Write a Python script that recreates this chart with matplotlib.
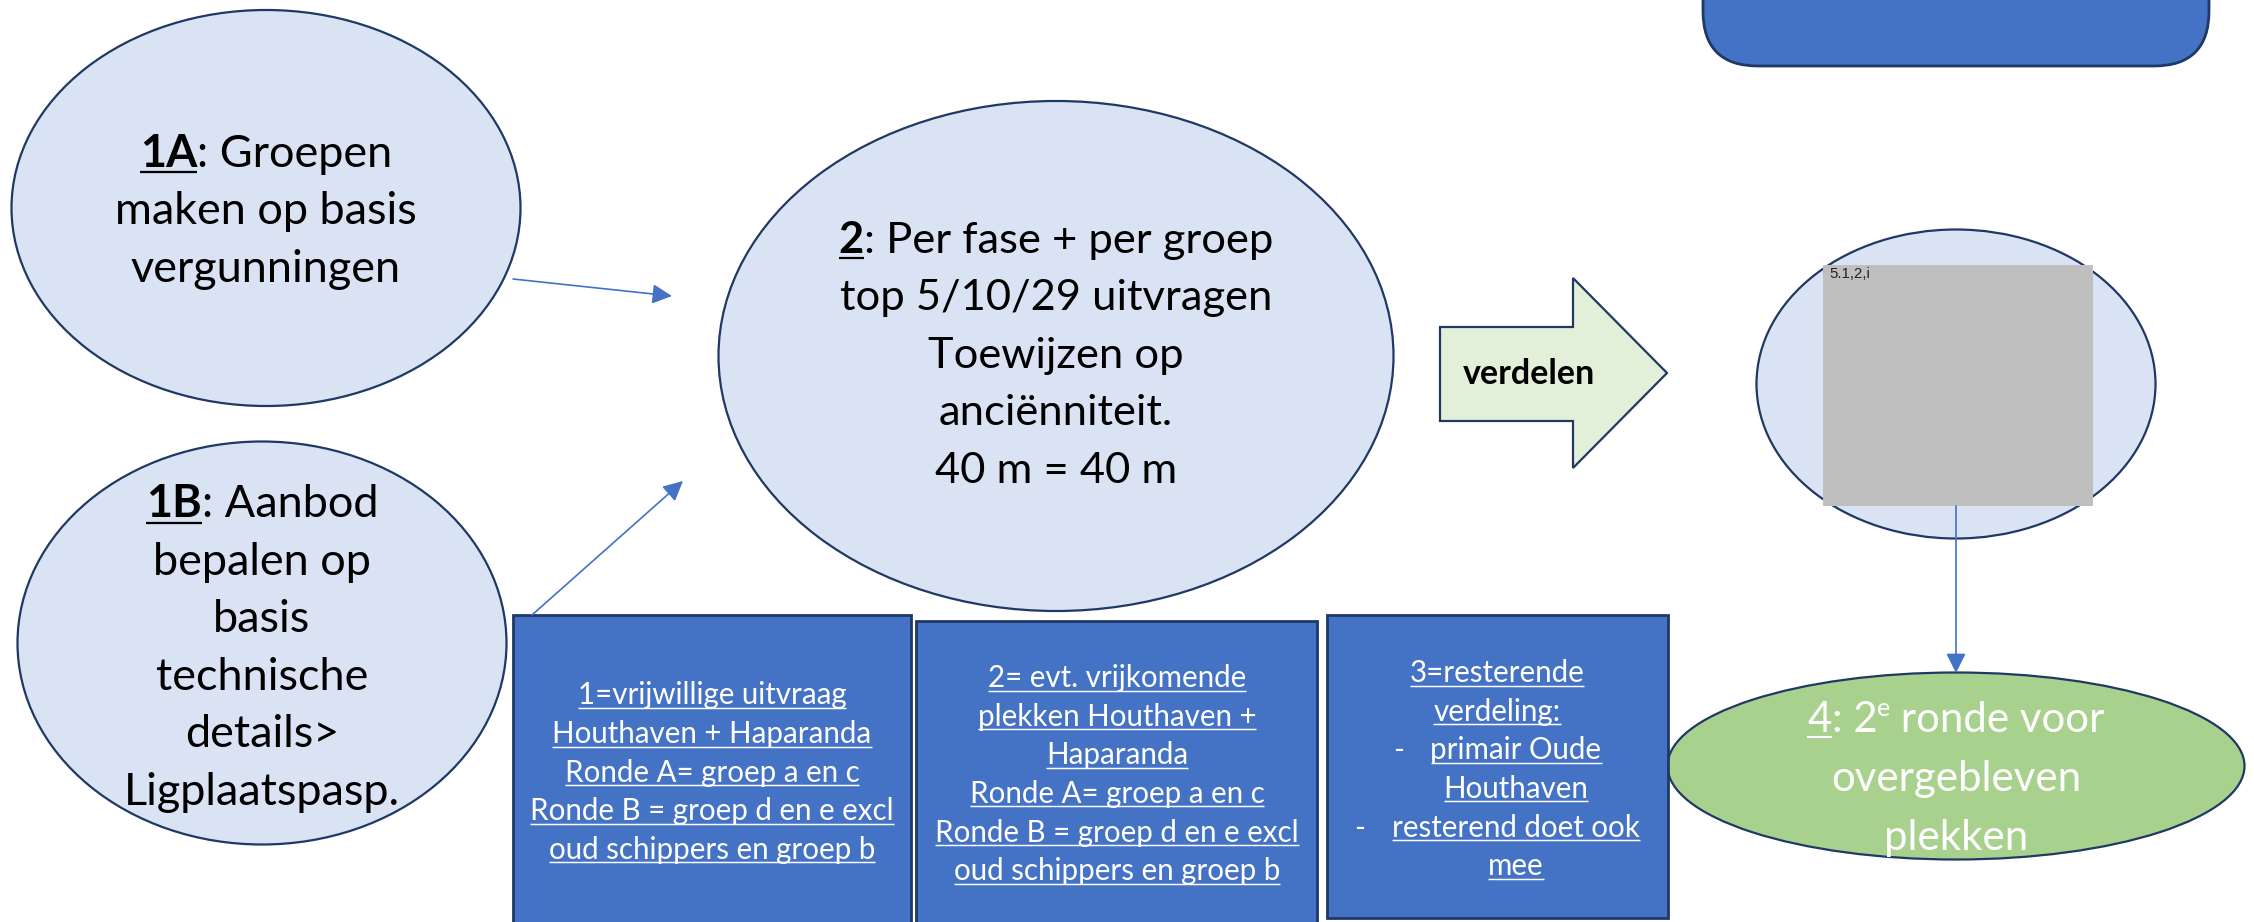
import matplotlib
matplotlib.use("Agg")
import matplotlib.pyplot as plt
from matplotlib.patches import Ellipse, Rectangle, FancyBboxPatch, Polygon, FancyArrowPatch

W, H = 2254, 922
FONT = "Lato"
PT = 0.72  # px -> pt at dpi 100

# text runs: (text, style)  b = bold, u = underline, s = superscript
text_1a = [[("1A", "bu"), (": Groepen", "")],
           [("maken op basis", "")],
           [("vergunningen", "")]]
text_1b = [[("1B", "bu"), (": Aanbod", "")],
           [("bepalen op", "")],
           [("basis", "")],
           [("technische", "")],
           [("details>", "")],
           [("Ligplaatspasp.", "")]]
text_2 = [[("2", "bu"), (": Per fase + per groep", "")],
          [("top 5/10/29 uitvragen", "")],
          [("Toewijzen op", "")],
          [("anciënniteit.", "")],
          [("40 m = 40 m", "")]]
text_4 = [[("4", "u"), (": 2", ""), ("e", "s"), (" ronde voor", "")],
          [("overgebleven", "")],
          [("plekken", "")]]
arrow_label = "verdelen"
picture_label = "5.1,2,i"

box1_lines = ["1=vrijwillige uitvraag", "Houthaven + Haparanda",
              "Ronde A= groep a en c", "Ronde B = groep d en e excl",
              "oud schippers en groep b"]
box2_lines = ["2= evt. vrijkomende", "plekken Houthaven +", "Haparanda",
              "Ronde A= groep a en c", "Ronde B = groep d en e excl",
              "oud schippers en groep b"]
# (text, kind): '' = centred, '-' = bullet item, '>' = continuation of bullet
box3_lines = [("3=resterende", ""), ("verdeling:", ""),
              ("primair Oude", "-"), ("Houthaven", ">"),
              ("resterend doet ook", "-"), ("mee", ">")]

LIGHT = "#DAE3F3"
NAVY = "#1F3864"
BLUE = "#4472C4"
GREEN = "#A9D18E"
PALE = "#E2F0D9"
GREY = "#BFBFBF"

fig = plt.figure(figsize=(W / 100, H / 100), dpi=100, facecolor="white")
ax = fig.add_axes([0, 0, 1, 1])
ax.set_xlim(0, W)
ax.set_ylim(H, 0)
ax.axis("off")
renderer = fig.canvas.get_renderer()


def put_line(cx, y, runs, size, color):
    """draw one line of runs centred on cx, y = baseline (px)"""
    items = []
    for text, style in runs:
        fs = size * 0.6 if "s" in style else size
        t = ax.text(0, y, text, fontsize=fs * PT, family=FONT,
                    fontweight="bold" if "b" in style else "normal",
                    color=color, ha="left", va="baseline", zorder=5)
        w = t.get_window_extent(renderer).width
        items.append((t, w, style))
    total = sum(w for _, w, _ in items)
    x = cx - total / 2
    for t, w, style in items:
        dy = -0.38 * size if "s" in style else 0
        t.set_position((x, y + dy))
        if "u" in style:
            ax.plot([x, x + w], [y + 0.12 * size] * 2, color=color,
                    lw=max(1.0, size * 0.05) * PT, solid_capstyle="butt", zorder=5)
        x += w
    return cx - total / 2


def put_block(cx, cy, lines, size, spacing, color):
    n = len(lines)
    for i, runs in enumerate(lines):
        yc = cy + (i - (n - 1) / 2) * spacing
        put_line(cx, yc + 0.36 * size, runs, size, color)


def ellipse(cx, cy, w, h, fc):
    ax.add_patch(Ellipse((cx, cy), w, h, facecolor=fc, edgecolor=NAVY,
                         lw=1.6, zorder=2))


def connector(p0, p1):
    ax.add_patch(FancyArrowPatch(p0, p1, arrowstyle="-|>,head_length=0.6,head_width=0.3",
                                 mutation_scale=20, color=BLUE, lw=1.2,
                                 shrinkA=0, shrinkB=0, zorder=6))


# top rounded box (cut off by the border)
ax.add_patch(FancyBboxPatch((1703, -120), 506, 186,
                            boxstyle="round,pad=0,rounding_size=55",
                            facecolor=BLUE, edgecolor=NAVY, lw=2, zorder=2))

# ellipses
ellipse(266, 208, 509, 396, LIGHT)
put_block(266, 208, text_1a, 45, 57.5, "black")

ellipse(262, 643, 489, 403, LIGHT)
put_block(262, 645, text_1b, 45, 57.5, "black")

ellipse(1056, 356, 675, 510, LIGHT)
put_block(1056, 352, text_2, 43.5, 57.5, "black")

ellipse(1956, 384, 399, 309, LIGHT)
ax.add_patch(Rectangle((1823, 265), 270, 241, facecolor=GREY, edgecolor="none", zorder=3))
ax.text(1829, 267, picture_label, fontsize=15 * PT, family="Liberation Sans",
        color="#222222", ha="left", va="top", zorder=4)

ellipse(1956, 766, 577, 187, GREEN)
put_block(1956, 776, text_4, 42, 59, "white")

# block arrow
ax.add_patch(Polygon([(1440, 327), (1573, 327), (1573, 278), (1667, 373),
                      (1573, 468), (1573, 421), (1440, 421)],
                     closed=True, facecolor=PALE, edgecolor=NAVY, lw=1.6, zorder=2))
ax.text(1529, 374, arrow_label, fontsize=34 * PT, family=FONT, fontweight="bold",
        color="black", ha="center", va="center", zorder=5)

# boxes
box_size = 29.5
box_spacing = 38.6
ax.add_patch(Rectangle((513, 615), 398, 340, facecolor=BLUE, edgecolor=NAVY, lw=2, zorder=2))
put_block(712, 771, [[(s, "u")] for s in box1_lines], box_size, box_spacing, "white")

ax.add_patch(Rectangle((916, 621), 401, 340, facecolor=BLUE, edgecolor=NAVY, lw=2, zorder=2))
put_block(1117, 773, [[(s, "u")] for s in box2_lines], box_size, box_spacing, "white")

ax.add_patch(Rectangle((1327, 615), 341, 303, facecolor=BLUE, edgecolor=NAVY, lw=2, zorder=2))
n3 = len(box3_lines)
for i, (s, kind) in enumerate(box3_lines):
    yb = 768 + (i - (n3 - 1) / 2) * box_spacing + 0.36 * box_size
    cx = 1497 if kind == "" else 1516
    left = put_line(cx, yb, [(s, "u")], box_size, "white")
    if kind == "-":
        ax.text(left - 32, yb, "-", fontsize=box_size * PT, family=FONT,
                color="white", ha="center", va="baseline", zorder=5)

# connectors
connector((513, 279), (672, 296))
connector((532, 615), (683, 481))
connector((1956, 506), (1956, 673))

fig.savefig("out.png", dpi=100, facecolor="white")
